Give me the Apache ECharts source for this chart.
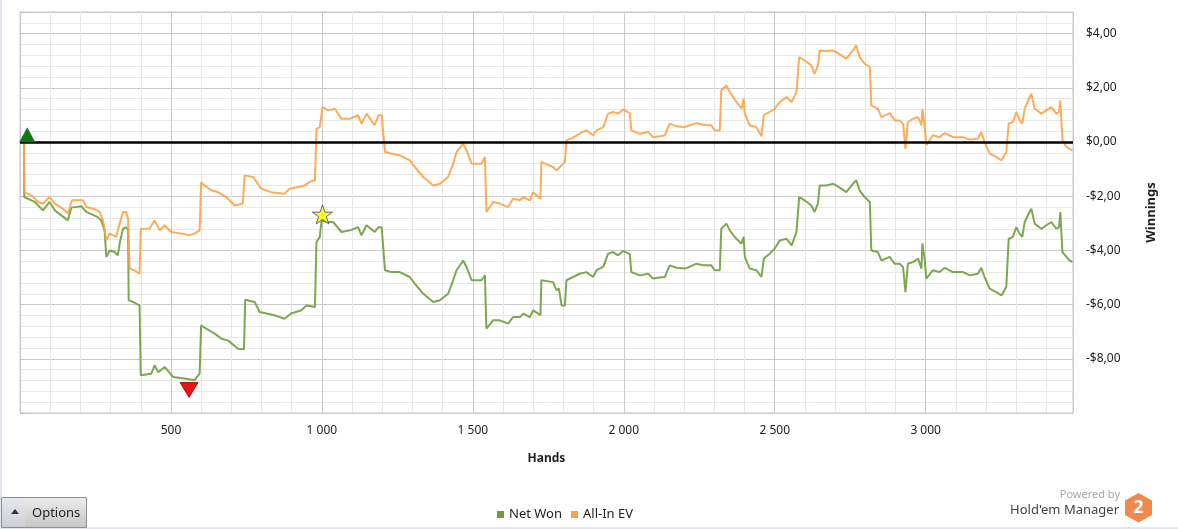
<!DOCTYPE html>
<html><head><meta charset="utf-8">
<script src="https://cdn.jsdelivr.net/npm/echarts@6/dist/echarts.min.js"></script>
<style>html,body{margin:0;padding:0;background:#fff}#c{width:1178px;height:529px}</style>
</head><body><div id="c"></div>
<script>
// Hands (x) and winnings in dollars (y)
const netWon = [[0,0],[13,0],[14,-2.03],[49,-2.21],[76,-2.52],[98,-2.21],[115,-2.52],[159,-2.89],[170,-2.42],[203,-2.37],[220,-2.58],[258,-2.77],[269,-2.89],[280,-3.26],[286,-4.24],[297,-4.0],[313,-4.06],[324,-4.18],[330,-3.75],[341,-3.2],[352,-3.14],[358,-3.26],[360,-5.84],[374,-5.9],[396,-6.03],[400,-8.61],[435,-8.55],[446,-8.24],[458,-8.5],[479,-8.3],[507,-8.67],[545,-8.73],[578,-8.79],[595,-8.55],[600,-6.76],[617,-6.89],[645,-7.07],[667,-7.26],[689,-7.32],[722,-7.63],[742,-7.65],[746,-5.82],[777,-5.9],[794,-6.27],[843,-6.39],[876,-6.52],[898,-6.33],[932,-6.21],[949,-6.03],[977,-6.09],[982,-3.69],[993,-3.5],[999,-2.89],[1016,-2.95],[1037,-2.95],[1065,-3.32],[1093,-3.26],[1120,-3.14],[1131,-3.44],[1148,-3.07],[1175,-3.32],[1187,-3.14],[1198,-3.14],[1209,-4.73],[1231,-4.8],[1258,-4.8],[1291,-4.98],[1308,-5.23],[1336,-5.6],[1369,-5.9],[1391,-5.84],[1418,-5.6],[1435,-5.1],[1446,-4.73],[1468,-4.37],[1479,-4.61],[1496,-5.1],[1529,-5.1],[1540,-4.92],[1545,-6.89],[1567,-6.58],[1589,-6.58],[1617,-6.7],[1633,-6.46],[1656,-6.46],[1667,-6.33],[1689,-6.46],[1700,-6.21],[1724,-6.39],[1727,-5.1],[1766,-5.17],[1777,-5.47],[1785,-5.4],[1794,-6.03],[1805,-6.03],[1810,-5.1],[1832,-4.98],[1854,-4.86],[1876,-4.8],[1898,-4.98],[1910,-4.73],[1932,-4.61],[1948,-4.12],[1965,-4.06],[1981,-4.18],[1998,-4.02],[2020,-4.14],[2025,-4.8],[2053,-4.92],[2081,-4.86],[2097,-5.04],[2119,-5.0],[2136,-4.98],[2152,-4.55],[2175,-4.64],[2202,-4.67],[2219,-4.6],[2241,-4.49],[2263,-4.55],[2290,-4.55],[2301,-4.73],[2318,-4.73],[2323,-3.2],[2340,-3.01],[2351,-3.26],[2373,-3.57],[2390,-3.75],[2397,-3.5],[2401,-4.24],[2417,-4.67],[2439,-4.73],[2456,-4.98],[2464,-4.3],[2483,-4.12],[2500,-3.93],[2517,-3.63],[2539,-3.57],[2556,-3.81],[2572,-3.32],[2581,-2.03],[2599,-2.15],[2621,-2.34],[2632,-2.58],[2643,-2.27],[2649,-1.6],[2671,-1.6],[2693,-1.54],[2704,-1.6],[2737,-1.85],[2759,-1.54],[2770,-1.41],[2781,-1.78],[2798,-2.03],[2815,-2.21],[2820,-4.0],[2842,-4.06],[2853,-4.37],[2881,-4.24],[2897,-4.49],[2914,-4.49],[2925,-4.61],[2933,-5.54],[2937,-5.54],[2941,-4.49],[2958,-4.43],[2975,-4.3],[2986,-4.67],[2989,-3.75],[2997,-4.37],[3002,-5.04],[3024,-4.73],[3046,-4.8],[3063,-4.64],[3090,-4.8],[3124,-4.8],[3146,-4.92],[3173,-4.86],[3184,-4.64],[3195,-4.98],[3212,-5.41],[3234,-5.54],[3251,-5.66],[3267,-5.35],[3275,-3.57],[3289,-3.5],[3300,-3.14],[3311,-3.38],[3320,-3.5],[3328,-2.95],[3344,-2.58],[3350,-2.46],[3361,-3.01],[3383,-3.2],[3400,-3.07],[3416,-2.95],[3433,-3.2],[3442,-3.14],[3446,-2.58],[3451,-2.58],[3453,-4.06],[3466,-4.24],[3477,-4.37],[3486,-4.43]];

const allInEV = [[0,0],[13,0],[14,-1.85],[38,-1.97],[60,-2.21],[76,-2.27],[98,-2.03],[115,-2.27],[142,-2.46],[159,-2.64],[172,-2.15],[192,-2.15],[209,-2.15],[220,-2.4],[242,-2.46],[264,-2.58],[275,-2.89],[286,-3.63],[297,-3.38],[319,-3.5],[324,-3.26],[341,-2.58],[352,-2.58],[358,-2.83],[363,-4.67],[379,-4.73],[396,-4.86],[400,-3.2],[429,-3.2],[446,-2.89],[463,-3.26],[479,-3.07],[501,-3.32],[534,-3.38],[562,-3.44],[578,-3.38],[595,-3.26],[600,-1.48],[611,-1.6],[634,-1.78],[656,-1.85],[683,-2.03],[711,-2.34],[738,-2.27],[744,-1.23],[772,-1.29],[799,-1.72],[832,-1.85],[876,-1.91],[893,-1.72],[921,-1.66],[943,-1.6],[960,-1.47],[977,-1.41],[982,0.49],[993,0.55],[1002,1.29],[1021,1.17],[1043,1.23],[1065,0.86],[1093,0.86],[1120,0.99],[1131,0.68],[1148,1.05],[1175,0.62],[1187,0.99],[1198,0.99],[1209,-0.37],[1231,-0.43],[1258,-0.49],[1291,-0.68],[1308,-0.92],[1336,-1.29],[1369,-1.6],[1391,-1.54],[1418,-1.29],[1435,-0.8],[1446,-0.37],[1468,-0.06],[1479,-0.3],[1496,-0.8],[1529,-0.8],[1540,-0.55],[1545,-2.58],[1567,-2.21],[1589,-2.27],[1617,-2.4],[1633,-2.09],[1656,-2.15],[1667,-2.03],[1689,-2.15],[1700,-1.85],[1724,-2.09],[1727,-0.74],[1766,-0.92],[1777,-1.05],[1788,-0.92],[1805,-0.74],[1810,0.06],[1832,0.16],[1854,0.31],[1876,0.43],[1898,0.25],[1910,0.43],[1932,0.55],[1948,1.05],[1965,1.11],[1981,1.05],[1998,1.2],[2020,1.07],[2025,0.43],[2053,0.31],[2081,0.37],[2097,0.18],[2119,0.21],[2136,0.25],[2152,0.68],[2175,0.58],[2202,0.55],[2219,0.62],[2241,0.7],[2263,0.64],[2290,0.62],[2301,0.43],[2318,0.43],[2323,1.91],[2340,2.09],[2351,1.85],[2373,1.48],[2390,1.23],[2397,1.6],[2401,1.05],[2417,0.62],[2439,0.55],[2456,0.21],[2464,0.99],[2483,1.11],[2500,1.23],[2517,1.48],[2539,1.66],[2556,1.48],[2572,1.85],[2581,3.14],[2599,3.01],[2621,2.83],[2632,2.52],[2643,2.83],[2649,3.38],[2671,3.36],[2693,3.38],[2704,3.32],[2737,3.08],[2759,3.38],[2770,3.57],[2781,3.14],[2798,2.89],[2815,2.77],[2820,1.35],[2842,1.23],[2853,0.92],[2881,1.07],[2897,0.8],[2914,0.8],[2925,0.68],[2933,-0.25],[2937,-0.18],[2941,0.74],[2958,0.86],[2975,0.92],[2986,0.62],[2989,1.23],[2997,0.55],[3002,-0.12],[3024,0.25],[3046,0.18],[3063,0.33],[3090,0.18],[3124,0.18],[3146,0.09],[3173,0.12],[3184,0.37],[3195,0],[3212,-0.43],[3234,-0.55],[3251,-0.68],[3267,-0.37],[3275,0.68],[3289,0.74],[3300,1.11],[3311,0.8],[3320,0.68],[3328,1.23],[3344,1.66],[3350,1.78],[3361,1.23],[3383,1.05],[3400,1.17],[3416,1.29],[3433,1.05],[3442,1.11],[3446,1.54],[3451,1.54],[3453,0.06],[3466,-0.18],[3477,-0.25],[3486,-0.31]];

const peakPoint = [[24,0.27]];
const lowPoint = [[560,-9.15]];
const starPoint = [[1002,-2.67]];
const seriesNames = ['Net Won', 'All-In EV'];
const xTickValues = [500, 1000, 1500, 2000, 2500, 3000];
const yTickValues = [-8, -6, -4, -2, 0, 2, 4];
const handsMax = 3488;

const FONT = "'Noto Sans', 'Open Sans', sans-serif";
const GREEN = '#6e9e3c', ORANGE = '#ffa245';
const MINOR = '#e8e8e8', MAJOR = '#cbcbcb';

function fmtX(v) {
  if (xTickValues.indexOf(Math.round(v)) < 0) return '';
  return String(Math.round(v)).replace(/\B(?=(\d{3})+(?!\d))/g, ' ');
}
function fmtY(v) {
  const r = Math.round(v * 100) / 100;
  if (yTickValues.indexOf(r) < 0) return '';
  return (r < 0 ? '-' : '') + '$' + Math.abs(r).toFixed(2).replace('.', ',');
}

const chart = echarts.init(document.getElementById('c'), null, {renderer: 'canvas'});
chart.setOption({
  animation: false,
  backgroundColor: '#fff',
  textStyle: {fontFamily: FONT},
  grid: {left: 20, right: 105, top: 12, bottom: 116, show: true, borderColor: '#c6c6c6', borderWidth: 1, backgroundColor: 'transparent'},
  legend: {
    data: seriesNames, left: 492, top: 503, icon: 'rect', itemWidth: 7, itemHeight: 7, itemGap: 9,
    textStyle: {fontSize: 13, color: '#222', fontFamily: FONT}, selectedMode: false
  },
  xAxis: [
    {type: 'value', min: 0, max: handsMax, interval: 100, position: 'bottom',
     axisLine: {show: false}, axisTick: {show: true, length: 6, lineStyle: {color: '#d6d6d6'}},
     axisLabel: {show: false}, splitLine: {show: true, lineStyle: {color: MINOR, width: 1}}},
    {type: 'value', min: 0, max: handsMax, interval: 500, position: 'bottom',
     axisLine: {show: false}, axisTick: {show: false},
     axisLabel: {formatter: fmtX, margin: 12, fontSize: 12, color: '#222', fontFamily: FONT},
     splitLine: {show: true, lineStyle: {color: MAJOR, width: 1}},
     name: 'Hands', nameLocation: 'middle', nameGap: 40,
     nameTextStyle: {fontWeight: 'bold', fontSize: 12, color: '#222', fontFamily: FONT}}
  ],
  yAxis: [
    {type: 'value', min: -10, max: 4.8, interval: 0.4, position: 'right',
     axisLine: {show: false}, axisTick: {show: false}, axisLabel: {show: false},
     splitLine: {show: true, lineStyle: {color: MINOR, width: 1}}},
    {type: 'value', min: -10, max: 4.8, interval: 2, position: 'right',
     axisLine: {show: false}, axisTick: {show: true, length: 5, lineStyle: {color: '#bdbdbd'}},
     axisLabel: {formatter: fmtY, margin: 13, fontSize: 12, color: '#222', fontFamily: FONT},
     splitLine: {show: true, lineStyle: {color: MAJOR, width: 1}},
     name: 'Winnings', nameLocation: 'middle', nameGap: 72, nameRotate: 90,
     nameTextStyle: {fontWeight: 'bold', fontSize: 13, color: '#222', fontFamily: FONT}}
  ],
  series: [
    {name: seriesNames[0], type: 'line', xAxisIndex: 1, yAxisIndex: 1, data: netWon,
     symbol: 'none', showSymbol: false, z: 3,
     lineStyle: {width: 2, color: GREEN, opacity: 0.9}, itemStyle: {color: GREEN}},
    {name: seriesNames[1], type: 'line', xAxisIndex: 1, yAxisIndex: 1, data: allInEV,
     symbol: 'none', showSymbol: false, z: 3,
     lineStyle: {width: 2, color: ORANGE, opacity: 0.9}, itemStyle: {color: ORANGE},
     markLine: {silent: true, symbol: 'none', label: {show: false}, z: 5,
       lineStyle: {color: '#000', width: 2.5, type: 'solid'}, data: [{yAxis: 0}]}},
    {name: 'peak', type: 'scatter', xAxisIndex: 1, yAxisIndex: 1, data: peakPoint, z: 10,
     symbol: 'triangle', symbolSize: [16, 15], itemStyle: {color: '#0f7a12', opacity: 1}},
    {name: 'low', type: 'scatter', xAxisIndex: 1, yAxisIndex: 1, data: lowPoint, z: 10,
     symbol: 'triangle', symbolRotate: 180, symbolSize: [18, 15],
     itemStyle: {color: '#ee1111', borderColor: '#9a0000', borderWidth: 0.8, opacity: 1}},
    {name: 'best', type: 'scatter', xAxisIndex: 1, yAxisIndex: 1, data: starPoint, z: 10,
     symbol: 'path://M50,0 L61.8,35.4 L98.9,35.4 L68.9,57.3 L80.3,92.7 L50,70.8 L19.7,92.7 L31.1,57.3 L1.1,35.4 L38.2,35.4 Z',
     symbolSize: [20, 19], itemStyle: {color: '#ffff14', borderColor: '#3a3a8a', borderWidth: 0.8, opacity: 1}}
  ],
  graphic: [
    {type: 'rect', silent: true, shape: {x: 0, y: 0, width: 2, height: 529}, style: {fill: '#e1e7ef'}},
    {type: 'rect', silent: true, shape: {x: 0, y: 527, width: 1178, height: 2}, style: {fill: '#e1e7ef'}},
    {type: 'rect', silent: true, shape: {x: 1.5, y: 497.5, width: 85, height: 30},
     style: {fill: new echarts.graphic.LinearGradient(0, 0, 0, 1, [{offset: 0, color: '#ececec'}, {offset: 1, color: '#c6c6c6'}]), stroke: '#8e8e8e', lineWidth: 1}},
    {type: 'rect', silent: true, shape: {x: 2.5, y: 498.5, width: 23, height: 28},
     style: {fill: new echarts.graphic.LinearGradient(0, 0, 0, 1, [{offset: 0, color: '#e6e6ee'}, {offset: 1, color: '#d0d0d8'}])}},
    {type: 'polygon', silent: true, shape: {points: [[11, 514], [19, 514], [15, 509]]}, style: {fill: '#333'}},
    {type: 'text', silent: true, style: {text: 'Options', x: 32, y: 513, textVerticalAlign: 'middle', font: '13px ' + FONT, fill: '#222'}},
    {type: 'text', silent: true, style: {text: 'Powered by', x: 1120, y: 495, textAlign: 'right', textVerticalAlign: 'middle', font: '11px ' + FONT, fill: '#a8a8a8'}},
    {type: 'text', silent: true, style: {text: "Hold'em Manager", x: 1119, y: 510, textAlign: 'right', textVerticalAlign: 'middle', font: '13px ' + FONT, fill: '#444'}},
    {type: 'polygon', silent: true, shape: {points: [[1138.5, 493], [1152, 500.5], [1152, 515], [1138.5, 522.5], [1125, 515], [1125, 500.5]]}, style: {fill: '#f2894a'}},
    {type: 'text', silent: true, style: {text: '2', x: 1138.5, y: 508, textAlign: 'center', textVerticalAlign: 'middle', font: 'bold 18px ' + FONT, fill: '#fff'}}
  ]
});
</script>
</body></html>
